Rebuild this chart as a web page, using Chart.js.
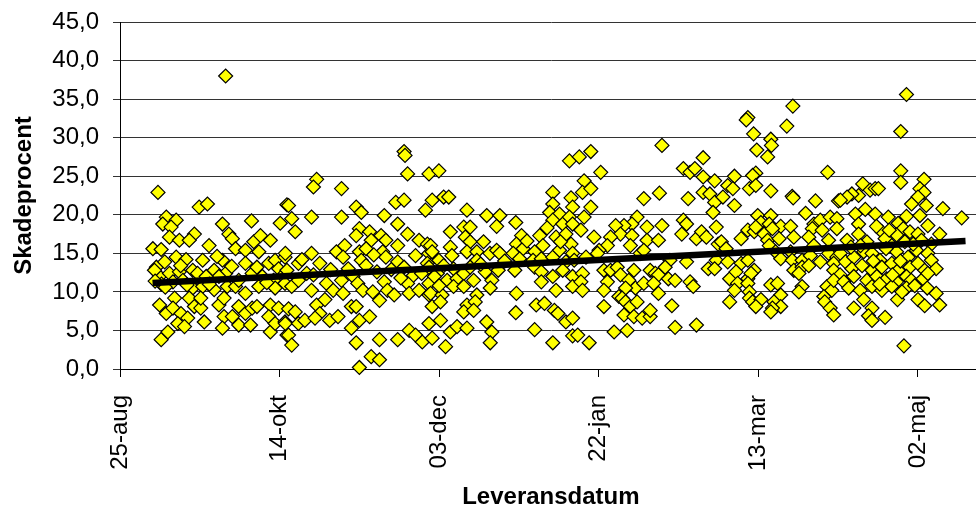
<!DOCTYPE html>
<html>
<head>
<meta charset="utf-8">
<script src="https://cdn.jsdelivr.net/npm/chart.js@4.4.1/dist/chart.umd.min.js"></script>
<style>
  html, body { margin: 0; padding: 0; background: #fff; overflow: hidden; }
</style>
</head>
<body>
<!-- the plot runs a little past the right edge of the window, as in the original -->
<canvas id="myChart" width="990" height="506"></canvas>
<script>
// x values are days counted from 25-aug
const xTickLabels = ['25-aug', '14-okt', '03-dec', '22-jan', '13-mar', '02-maj'];
const yTickLabels = ['0,0', '5,0', '10,0', '15,0', '20,0', '25,0', '30,0', '35,0', '40,0', '45,0'];

const trendDays = [10.2, 264.9];
const trendValues = [11.15, 16.6];

// [dag, skadeprocent]
const observations = [
  [33.1,38.0],[11.9,22.9],[24.8,21.0],[27.4,21.4],[12.9,3.8],[15.0,4.8],
  [14.5,19.7],[17.6,19.3],[13.4,18.8],[16.0,18.4],
  [10.3,15.6],[12.9,15.5],[15.5,17.1],[18.6,16.7],[23.3,17.5],[21.7,16.7],[27.9,16.0],[32.1,18.8],[34.1,17.5],[35.2,16.9],[36.2,15.6],[39.3,15.4],[41.2,19.2],[41.9,16.5],[44.0,17.3],[47.1,16.7],[43.5,15.2],[50.2,18.9],[52.3,21.3],
  [11.4,13.2],[14.0,13.9],[17.6,14.5],[20.7,14.2],[12.4,12.0],[15.5,12.4],[18.6,12.6],[16.6,11.3],[19.7,11.5],[22.8,12.8],[25.9,14.1],[24.3,12.4],[22.8,10.5],[25.9,10.7],[29.5,12.8],[29.5,10.3],[32.1,14.1],[33.1,12.4],[31.0,12.0],[33.6,10.7],[36.2,10.7],[37.2,11.5],[39.3,13.7],[41.4,12.4],[39.3,9.8],[42.9,13.2],[43.5,10.7],[46.6,13.7],[48.6,14.1],[49.7,13.0],[48.1,11.5],[51.7,14.5],[51.7,12.4],[48.6,10.5],[51.7,11.1],
  [12.4,8.3],[14.5,7.2],[17.1,9.2],[16.6,7.9],[19.1,7.2],[21.2,6.6],[18.1,5.9],[20.2,5.5],[21.7,9.2],[23.3,8.1],[25.3,7.9],[25.3,9.2],[26.4,6.1],[31.0,8.3],[32.6,9.2],[32.6,6.8],[35.2,6.8],[37.2,8.1],[37.2,5.7],[39.3,7.2],[41.4,7.9],[40.9,5.7],[42.9,8.1],[47.1,8.3],[46.6,6.8],[49.7,7.9],[47.1,4.8],[48.6,5.9],[51.7,6.1],[52.3,4.4],[32.1,5.3],
  [10.8,12.8],[13.0,11.0],[14.2,10.6],[11.0,11.4],[19.0,13.4],[21.0,10.9],[27.0,12.0],[28.0,11.0],[30.4,14.6],[35.0,13.3],[44.6,12.0],[46.0,11.2],

  [89.0,28.2],[89.3,27.7],[90.1,25.3],[96.8,25.3],[61.6,24.6],[60.6,23.6],[69.4,23.4],[52.8,21.2],[74.0,21.0],[75.6,20.3],[86.4,21.6],[89.0,21.9],[95.7,20.6],
  [53.8,19.5],[54.9,17.8],[60.0,19.7],[69.4,19.7],[82.8,19.9],[87.0,18.8],[90.1,17.5],
  [75.0,18.2],[78.2,17.8],[74.0,17.3],[78.7,16.7],[81.8,17.3],[83.3,16.7],[87.0,16.0],[93.7,16.7],[96.3,16.2],
  [51.8,15.0],[55.9,13.7],[60.0,15.0],[62.6,13.7],[67.8,15.2],[70.4,16.0],[69.9,14.5],[75.0,15.2],[77.1,15.6],[75.6,14.1],[77.1,13.4],[82.3,15.2],[83.3,14.5],[87.0,13.9],[89.0,13.2],[91.6,12.0],[92.6,14.7],[96.8,15.0],[96.3,13.7],
  [52.3,12.8],[53.8,10.7],[55.9,11.5],[58.5,12.4],[60.6,12.2],[60.0,10.2],[64.7,11.1],[66.8,10.2],[69.4,11.5],[69.9,9.8],[73.0,12.0],[74.5,11.1],[76.1,10.2],[79.2,10.0],[82.8,11.3],[81.3,8.9],[83.8,10.2],[85.9,9.6],[90.1,11.1],[90.6,9.8],[93.7,10.2],[96.8,11.1],[96.8,9.6],
  [52.8,7.8],[54.9,7.4],[51.8,5.9],[55.9,5.9],[57.9,6.3],[61.6,8.3],[64.2,9.0],[62.6,7.2],[61.1,6.6],[65.7,6.3],[68.3,6.8],[72.5,8.1],[74.0,8.1],[75.0,6.3],[78.2,6.8],
  [72.5,5.3],[74.0,3.4],[81.3,3.8],[87.0,3.8],[90.6,5.0],[92.6,4.4],[94.7,3.5],[52.8,4.4],[53.8,3.1],[78.7,1.6],[81.3,1.2],[75.0,0.2],
  [79.5,14.8],[80.5,12.6],[85.0,12.9],[88.0,11.8],[94.5,12.4],[71.5,13.0],[66.0,12.9],[57.0,14.2],

  [140.8,27.0],[99.9,25.7],[97.8,21.9],[101.4,22.3],[103.0,22.3],[108.7,20.6],[114.9,19.9],[119.0,19.9],[118.0,18.5],[124.0,19.0],
  [135.6,22.9],[135.6,21.4],[134.6,20.3],[137.7,20.1],[135.6,19.3],[138.7,18.8],[141.3,22.2],[141.8,21.0],[140.8,19.7],[141.8,18.8],
  [103.5,17.8],[107.7,18.4],[109.7,18.4],[108.2,17.1],[109.7,16.5],[113.9,16.5],[125.8,17.3],[124.2,16.2],[126.3,15.6],[131.5,17.3],[132.5,16.0],[136.6,17.1],[139.7,17.5],[141.3,16.2],
  [97.3,16.0],[97.8,15.2],[99.9,14.1],[103.5,15.8],[104.0,14.7],[108.7,15.2],[111.8,15.2],[111.8,14.1],[115.9,15.0],[118.0,15.4],[119.0,15.0],[123.2,15.0],[125.2,14.3],[129.9,15.2],[129.4,14.1],[132.0,14.3],[135.6,14.5],[137.7,15.4],[139.7,13.9],[141.8,15.0],
  [96.8,13.2],[99.4,12.4],[101.4,13.4],[104.5,13.0],[102.5,11.5],[105.6,11.7],[107.7,12.4],[109.7,13.2],[110.8,11.5],[114.4,12.6],[116.5,11.5],[118.5,12.8],[116.0,10.5],[123.7,12.8],[129.9,13.2],[132.0,12.6],[132.0,11.3],[135.6,12.0],[136.6,10.2],[138.7,12.8],[141.8,12.0],[141.8,10.7],
  [97.3,9.8],[97.8,8.1],[100.9,9.6],[100.4,8.7],[104.5,10.7],[107.7,10.7],[108.7,8.3],[107.7,7.4],[111.8,9.6],[111.3,8.7],[110.8,7.6],[124.2,9.8],[124.0,7.3],[130.4,8.3],[133.0,8.5],[136.1,7.6],[137.2,7.2],[139.7,6.1],[141.8,6.6],
  [96.8,5.9],[100.4,6.3],[103.5,4.8],[105.6,5.5],[108.7,5.3],[114.9,6.1],[116.5,4.8],[116.0,3.4],[97.8,4.0],[102.0,2.9],[129.9,5.1],[135.6,3.4],[141.8,4.3],
  [98.5,12.0],[100.0,10.8],[113.0,13.6],[120.5,14.0],[127.5,16.6],[133.8,18.3],[138.0,16.5],

  [169.8,29.0],[143.9,27.5],[147.5,28.2],[150.6,25.5],[182.7,27.4],[176.5,26.0],[178.6,25.5],[180.1,26.0],
  [145.4,24.4],[144.9,22.9],[147.5,23.4],[182.7,24.9],[186.3,24.4],[182.7,22.9],[184.8,22.7],[186.3,21.6],[185.8,20.3],
  [164.1,22.1],[169.0,22.8],[178.0,22.1],[147.5,21.0],[145.4,19.7],[144.4,18.0],
  [162.0,19.7],[160.4,18.8],[157.9,18.6],[155.3,18.6],[156.8,17.5],[165.1,18.4],[169.8,18.6],[160.4,17.3],[165.1,16.7],[168.7,16.7],
  [176.5,19.3],[177.5,18.8],[176.0,17.5],[180.6,16.9],[182.2,17.8],[183.7,17.1],[186.8,18.4],
  [148.5,17.1],[153.7,17.1],[152.7,16.0],[150.1,15.4],[149.6,15.0],[146.0,14.5],[142.3,14.1],
  [159.9,16.0],[163.0,15.0],[164.1,15.4],[187.4,16.2],[186.8,14.1],[177.5,13.9],[172.3,14.1],
  [144.9,12.4],[144.4,11.3],[144.9,10.2],[151.6,12.8],[153.7,12.8],[155.8,13.2],[156.8,12.2],[152.7,11.3],[151.6,10.2],
  [161.0,12.8],[159.4,11.5],[161.5,10.5],[158.4,10.5],[164.1,11.1],[166.1,12.8],[167.7,12.4],[168.7,12.2],[170.8,13.2],[171.8,11.7],[167.2,11.1],[168.7,9.8],
  [173.9,11.5],[178.6,11.3],[179.6,10.7],[184.3,13.0],[186.3,13.0],
  [151.6,8.1],[156.3,9.4],[157.3,9.2],[158.4,8.7],[159.9,8.1],[162.0,8.7],[157.9,7.0],[161.0,6.8],[163.6,6.6],[166.1,6.8],[166.1,7.6],[172.9,8.2],
  [143.4,4.4],[147.0,3.4],[154.8,4.8],[158.9,5.0],[173.9,5.4],[180.6,5.7],

  [210.8,34.1],[196.7,32.6],[196.2,32.3],[208.9,31.5],[198.5,30.5],[203.9,29.8],[204.1,29.0],[199.5,28.4],[202.9,27.5],[221.7,25.5],
  [192.5,25.0],[199.2,25.4],[198.2,25.1],[190.4,23.8],[192.0,23.4],[197.2,23.4],[199.2,23.8],[203.9,23.1],[210.6,22.4],[210.9,22.2],[217.9,21.8],[225.1,21.8],
  [188.9,22.3],[192.5,21.2],[199.8,19.9],[203.9,19.9],[214.8,20.2],
  [196.7,18.0],[194.6,16.9],[198.7,17.8],[200.8,19.0],[199.2,18.4],[203.4,18.8],[201.8,17.5],[202.9,16.7],[207.0,18.5],[210.1,18.5],[204.4,18.2],[206.5,16.9],[211.1,17.1],
  [217.4,18.8],[219.4,19.3],[222.5,19.7],[224.6,19.5],[216.9,18.2],[220.0,18.0],[224.6,18.2],[215.8,17.1],[217.4,16.0],[222.0,16.7],
  [188.4,16.5],[189.9,15.6],[203.4,16.0],[205.4,15.2],[207.0,14.3],[210.1,15.2],[210.6,14.1],[213.7,14.1],[216.3,14.7],[219.4,13.9],[222.0,15.0],[224.6,14.5],[223.6,13.7],
  [190.4,13.9],[194.6,13.7],[196.7,14.1],[198.7,12.8],[191.0,11.7],[193.0,12.6],[196.7,11.7],[197.7,12.4],
  [211.1,12.8],[213.7,13.2],[212.7,12.4],[215.8,13.4],[223.6,12.8],[225.6,12.2],
  [193.5,11.1],[196.7,11.1],[192.5,10.2],[197.2,10.0],[203.9,10.9],[206.0,11.1],[213.7,10.7],[212.7,10.0],[221.5,10.7],[223.0,10.2],[223.6,11.5],
  [191.0,8.7],[197.2,9.2],[198.2,8.7],[200.8,9.0],[199.2,8.1],[207.0,9.6],[204.9,8.7],[207.0,8.1],[204.4,7.9],[203.9,7.4],[220.5,9.4],[220.8,8.7],[222.5,7.9],[223.6,7.0],

  [246.4,35.6],[244.6,30.8],[244.6,25.7],[244.6,24.2],[251.9,24.6],[250.6,23.4],[251.9,22.9],
  [232.7,24.0],[235.0,23.2],[236.6,23.4],[237.6,23.4],[231.4,22.5],[229.3,22.7],[227.8,22.3],[225.7,21.9],
  [250.0,22.3],[252.6,21.2],[248.0,21.4],[257.8,20.8],[263.7,19.6],
  [230.4,20.1],[233.5,20.7],[236.6,20.1],[231.4,18.8],[240.7,19.7],[246.4,19.8],[243.8,18.9],[250.6,19.9],
  [231.4,17.5],[238.7,17.8],[245.4,18.2],[247.5,17.8],[250.0,17.5],[253.1,18.6],[256.8,17.5],
  [227.8,16.7],[234.0,16.5],[239.7,16.9],[243.3,17.4],[241.8,16.0],[245.9,16.5],[251.1,16.7],[254.2,16.2],
  [225.7,15.0],[227.3,13.9],[229.9,14.5],[233.0,15.2],[235.6,15.0],[238.1,14.1],[243.3,15.2],[246.9,14.5],[249.5,15.4],[253.1,15.0],[254.2,14.1],
  [229.3,13.0],[232.5,13.4],[235.6,12.8],[238.7,13.2],[241.8,13.7],[243.8,12.8],[247.5,13.2],[250.0,13.7],[252.1,12.8],[255.7,13.0],
  [226.8,11.3],[229.9,12.0],[234.0,11.5],[237.1,12.0],[240.2,11.7],[243.3,11.3],[246.4,12.0],[247.9,11.5],[251.6,11.7],[253.1,12.4],
  [228.3,10.5],[231.9,10.2],[235.6,10.7],[238.7,10.2],[241.8,10.7],[246.4,10.5],[252.9,10.5],[255.7,9.8],
  [233.0,9.0],[243.6,9.0],[250.0,9.0],[252.1,8.2],[256.8,8.3],[229.9,7.9],[235.6,7.9],[234.5,6.9],[235.6,6.3],[239.7,6.7],[245.6,3.0],
  [236.0,14.0],[240.0,15.6],[244.5,14.0],[248.5,16.2],[242.0,12.2],[238.0,11.0],[232.0,16.0],[229.0,15.8],[245.0,10.0],[249.0,10.8],[237.0,18.5],[241.0,18.0]
];

const fontFamily = "'Liberation Sans', Arial, sans-serif";

const ctx = document.getElementById('myChart');

new Chart(ctx, {
  type: 'scatter',
  data: {
    datasets: [
      {
        type: 'line',
        data: trendDays.map((d, i) => ({ x: d, y: trendValues[i] })),
        borderColor: '#000',
        borderWidth: 6.5,
        pointRadius: 0,
        fill: false,
        order: 0
      },
      {
        data: observations.map(p => ({ x: p[0], y: p[1] })),
        pointStyle: 'rectRot',
        pointRadius: 7,
        backgroundColor: '#ffff00',
        borderColor: '#000',
        borderWidth: 1.2,
        clip: false,
        order: 1
      }
    ]
  },
  options: {
    responsive: false,
    animation: false,
    layout: { padding: { top: 22, right: 0, bottom: 0, left: 0 } },
    plugins: {
      legend: { display: false },
      tooltip: { enabled: false }
    },
    scales: {
      x: {
        type: 'linear',
        min: 0,
        max: 270,
        ticks: {
          stepSize: 50,
          includeBounds: false,
          autoSkip: false,
          minRotation: 90,
          maxRotation: 90,
          padding: 18,
          color: '#000',
          font: { family: fontFamily, size: 24 },
          callback: v => xTickLabels[v / 50] ?? ''
        },
        grid: { drawOnChartArea: false, drawTicks: true, tickLength: 8, color: '#000' },
        border: { color: '#000', width: 1 },
        title: {
          display: true,
          text: 'Leveransdatum',
          color: '#000',
          font: { family: fontFamily, size: 24, weight: 'bold', lineHeight: 0.75 },
          padding: 0
        },
        afterFit: s => { s.height = 137; }
      },
      y: {
        min: 0,
        max: 45,
        ticks: {
          stepSize: 5,
          padding: 14,
          color: '#000',
          // small line height only so the top label does not push the plot down
          font: { family: fontFamily, size: 24, lineHeight: 0.6 },
          callback: v => yTickLabels[v / 5] ?? ''
        },
        grid: { color: '#333', lineWidth: 1, tickLength: 7 },
        border: { color: '#000', width: 1 },
        title: {
          display: true,
          text: 'Skadeprocent',
          color: '#000',
          font: { family: fontFamily, size: 24, weight: 'bold' },
          padding: { top: 10, bottom: 0 }
        },
        afterFit: s => { s.width = 120; }
      }
    }
  }
});
</script>
</body>
</html>
